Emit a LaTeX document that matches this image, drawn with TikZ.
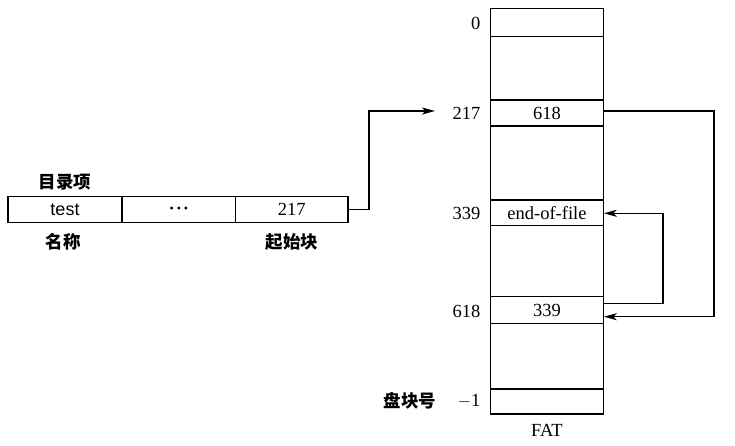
\documentclass[tikz,border=0pt]{standalone}
\usepackage{fontspec}
\setmainfont{Liberation Serif}
\newfontfamily\cjk{Noto Sans CJK SC}
\newfontfamily\arialf{Liberation Sans}
\usetikzlibrary{arrows.meta}
\begin{document}
\begin{tikzpicture}[x=1pt,y=-1pt,line width=1.1pt,
  cell/.style={draw,minimum width=112.6pt,inner sep=0pt,font=\fontsize{18.5}{18.5}\selectfont},
  ecell/.style={draw,minimum height=26pt,inner sep=0pt,font=\fontsize{18.5}{18.5}\selectfont},
  lbl/.style={inner sep=0pt,font=\fontsize{18.5}{18.5}\selectfont},
  cjkl/.style={inner sep=0pt,font=\cjk\fontsize{17.5}{17.5}\selectfont\bfseries},
  arr/.style={-{Stealth[length=13pt,width=7pt,inset=3.5pt]}}]
\useasboundingbox (0,0) rectangle (735,445);
% FAT column
\node[draw,minimum width=112.6pt,minimum height=405.7pt,inner sep=0pt] (fat) at (547,211.15) {};
\node[cell,minimum height=28.4pt] (r0) at (547,22.5) {};
\node[cell,minimum height=26pt] (r217) at (547,113) {618};
\node[cell,minimum height=25.7pt] (r339) at (547,212.85) {end-of-file};
\node[cell,minimum height=26.6pt] (r618) at (547,310) {339};
\node[cell,minimum height=25pt] (rm1) at (547,401.5) {};
% row labels
\node[lbl,anchor=east] (l0) at (481,23) {0};
\node[lbl,anchor=east] (l217) at (481,113) {217};
\node[lbl,anchor=east] (l339) at (481,213) {339};
\node[lbl,anchor=east] (l618) at (481,311) {618};
\node[lbl,anchor=east] (lm1) at (481,401) {$-$1};
\node[cjkl] (pkh) at (410,401) {盘块号};
\node[lbl] (fatl) at (547,430) {FAT};
% directory entry
\node[ecell,minimum width=114pt,font=\arialf\fontsize{18}{18}\selectfont] (e1) at (65,209.7) {test};
\node[ecell,minimum width=113.7pt,font=\fontsize{12}{12}\selectfont] (e2) at (178.85,209.7) {•\hspace{3pt}•\hspace{3pt}•};
\node[ecell,minimum width=112.3pt] (e3) at (291.85,209.7) {217};
\node[cjkl] (mlx) at (65,182) {目录项};
\node[cjkl] (mc) at (63,242) {名称};
\node[cjkl] (qsk) at (292,242) {起始块};
% arrows
\coordinate (tip) at (435,111);
\draw[arr] (e3.east) -- (369,209.7) |- (tip);
\draw[arr] ([yshift=2pt]r217.east) -| (714,316.7) -- ([yshift=-6.7pt]r618.east);
\draw[arr] ([yshift=6.7pt]r618.east) -| (663,213.3) -- ([yshift=-0.45pt]r339.east);
\end{tikzpicture}
\end{document}
